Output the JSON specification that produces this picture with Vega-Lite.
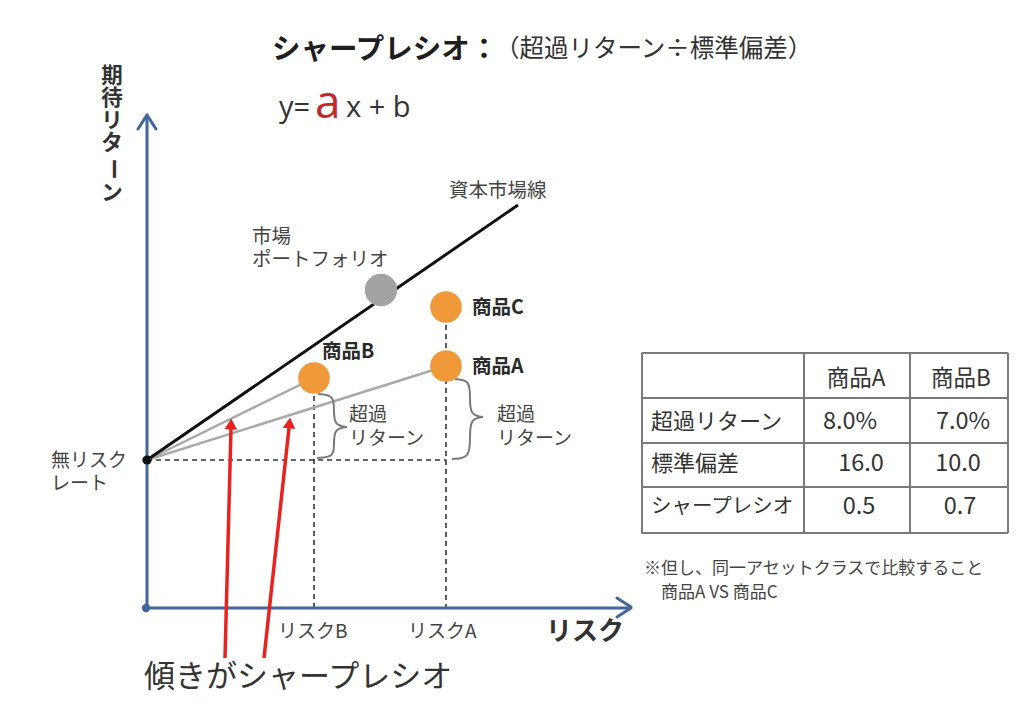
{
  "$schema": "https://vega.github.io/schema/vega-lite/v6.json",
  "width": 1024,
  "height": 715,
  "padding": 0,
  "autosize": {"type": "fit", "contains": "padding"},
  "background": "white",
  "config": {"view": {"stroke": null}, "text": {"font": "Noto Sans CJK JP"}},
  "encoding": {
    "x": {"field": "x", "type": "quantitative", "scale": {"domain": [0, 1024], "nice": false, "zero": false}, "axis": null},
    "y": {"field": "y", "type": "quantitative", "scale": {"domain": [0, 715], "reverse": true, "nice": false, "zero": false}, "axis": null}
  },
  "layer": [
    {
      "data": {"values": [
        {"x": 642, "y": 353, "x2": 1008, "y2": 353},
        {"x": 642, "y": 398, "x2": 1008, "y2": 398},
        {"x": 642, "y": 443, "x2": 1008, "y2": 443},
        {"x": 642, "y": 487, "x2": 1008, "y2": 487},
        {"x": 642, "y": 533, "x2": 1008, "y2": 533},
        {"x": 642, "y": 353, "x2": 642, "y2": 533},
        {"x": 804, "y": 353, "x2": 804, "y2": 533},
        {"x": 910, "y": 353, "x2": 910, "y2": 533},
        {"x": 1008, "y": 353, "x2": 1008, "y2": 533}
      ]},
      "mark": {"type": "rule", "color": "#7a7a7a", "strokeWidth": 2},
      "encoding": {"x2": {"field": "x2"}, "y2": {"field": "y2"}}
    },
    {
      "data": {"values": [
        {"x": 147, "y": 460, "x2": 446, "y2": 460},
        {"x": 314, "y": 378, "x2": 314, "y2": 608},
        {"x": 446, "y": 307, "x2": 446, "y2": 608}
      ]},
      "mark": {"type": "rule", "color": "#333333", "strokeWidth": 1.6, "strokeDash": [5, 4]},
      "encoding": {"x2": {"field": "x2"}, "y2": {"field": "y2"}}
    },
    {
      "data": {"values": [
        {"x": 147, "y": 608, "x2": 147, "y2": 116},
        {"x": 147, "y": 608, "x2": 629, "y2": 608},
        {"x": 138, "y": 129, "x2": 147, "y2": 115},
        {"x": 156, "y": 129, "x2": 147, "y2": 115},
        {"x": 617, "y": 598, "x2": 631, "y2": 607},
        {"x": 617, "y": 617, "x2": 631, "y2": 608}
      ]},
      "mark": {"type": "rule", "color": "#41679d", "strokeWidth": 3, "strokeCap": "round"},
      "encoding": {"x2": {"field": "x2"}, "y2": {"field": "y2"}}
    },
    {
      "data": {"values": [
        {"x": 147, "y": 460, "x2": 314, "y2": 378},
        {"x": 147, "y": 460, "x2": 446, "y2": 366}
      ]},
      "mark": {"type": "rule", "color": "#a9a9a9", "strokeWidth": 2.5},
      "encoding": {"x2": {"field": "x2"}, "y2": {"field": "y2"}}
    },
    {
      "data": {"values": [
        {"x": 147, "y": 460, "x2": 518, "y2": 205}
      ]},
      "mark": {"type": "rule", "color": "#111111", "strokeWidth": 3},
      "encoding": {"x2": {"field": "x2"}, "y2": {"field": "y2"}}
    },
    {
      "data": {"values": [
        {"b": "B1", "i": 0, "x": 318, "y": 394},
        {"b": "B1", "i": 1, "x": 334, "y": 395},
        {"b": "B1", "i": 2, "x": 334, "y": 410},
        {"b": "B1", "i": 3, "x": 334, "y": 425},
        {"b": "B1", "i": 4, "x": 347, "y": 427},
        {"b": "B2", "i": 0, "x": 347, "y": 427},
        {"b": "B2", "i": 1, "x": 334, "y": 429},
        {"b": "B2", "i": 2, "x": 334, "y": 444},
        {"b": "B2", "i": 3, "x": 334, "y": 457},
        {"b": "B2", "i": 4, "x": 317, "y": 458},
        {"b": "A1", "i": 0, "x": 455, "y": 379},
        {"b": "A1", "i": 1, "x": 470, "y": 380},
        {"b": "A1", "i": 2, "x": 470, "y": 398},
        {"b": "A1", "i": 3, "x": 470, "y": 415},
        {"b": "A1", "i": 4, "x": 483, "y": 417},
        {"b": "A2", "i": 0, "x": 483, "y": 417},
        {"b": "A2", "i": 1, "x": 470, "y": 419},
        {"b": "A2", "i": 2, "x": 470, "y": 438},
        {"b": "A2", "i": 3, "x": 470, "y": 458},
        {"b": "A2", "i": 4, "x": 452, "y": 459}
      ]},
      "mark": {"type": "line", "color": "#7a7a7a", "strokeWidth": 2, "interpolate": "basis"},
      "encoding": {"detail": {"field": "b"}, "order": {"field": "i"}}
    },
    {
      "data": {"values": [
        {"x": 225, "y": 658, "x2": 231, "y2": 428},
        {"x": 264, "y": 658, "x2": 289, "y2": 428}
      ]},
      "mark": {"type": "rule", "color": "#e8231f", "strokeWidth": 3.5},
      "encoding": {"x2": {"field": "x2"}, "y2": {"field": "y2"}}
    },
    {
      "data": {"values": [{"x": 231, "y": 424}]},
      "mark": {"type": "point", "shape": "triangle-up", "filled": true, "color": "#e8231f", "size": 160, "opacity": 1, "angle": 1.5}
    },
    {
      "data": {"values": [{"x": 289.5, "y": 423}]},
      "mark": {"type": "point", "shape": "triangle-up", "filled": true, "color": "#e8231f", "size": 160, "opacity": 1, "angle": 6}
    },
    {
      "data": {"values": [{"x": 146, "y": 608}]},
      "mark": {"type": "circle", "opacity": 1, "color": "#41679d", "size": 70}
    },
    {
      "data": {"values": [{"x": 147, "y": 460}]},
      "mark": {"type": "circle", "opacity": 1, "color": "#111111", "size": 85}
    },
    {
      "data": {"values": [{"x": 381, "y": 290}]},
      "mark": {"type": "circle", "opacity": 1, "color": "#a3a3a6", "size": 1050}
    },
    {
      "data": {"values": [
        {"x": 314, "y": 378, "p": "商品B"},
        {"x": 446, "y": 366, "p": "商品A"},
        {"x": 446, "y": 307, "p": "商品C"}
      ]},
      "mark": {"type": "circle", "opacity": 1, "color": "#f0993a", "size": 1000}
    },
    {
      "data": {"values": [{"x": 272, "y": 50, "t": "シャープレシオ："}]},
      "mark": {"type": "text", "align": "left", "baseline": "middle", "fontSize": 28.5, "fontWeight": "bold", "color": "#1e1e1e"},
      "encoding": {"text": {"field": "t"}}
    },
    {
      "data": {"values": [{"x": 495, "y": 50, "t": "（超過リターン÷標準偏差）"}]},
      "mark": {"type": "text", "align": "left", "baseline": "middle", "fontSize": 24.5, "color": "#333333"},
      "encoding": {"text": {"field": "t"}}
    },
    {
      "data": {"values": [
        {"x": 279, "y": 117, "t": "y="},
        {"x": 346, "y": 117, "t": "x + b"}
      ]},
      "mark": {"type": "text", "align": "left", "baseline": "alphabetic", "fontSize": 29, "color": "#333333", "font": "Open Sans"},
      "encoding": {"text": {"field": "t"}}
    },
    {
      "data": {"values": [{"x": 315, "y": 118, "t": "a"}]},
      "mark": {"type": "text", "align": "left", "baseline": "alphabetic", "fontSize": 46, "color": "#c0282a", "font": "Open Sans"},
      "encoding": {"text": {"field": "t"}}
    },
    {
      "data": {"values": [
        {"x": 112, "y": 77, "t": "期"},
        {"x": 112, "y": 99, "t": "待"},
        {"x": 112, "y": 122, "t": "リ"},
        {"x": 112, "y": 144, "t": "タ"},
        {"x": 112, "y": 194, "t": "ン"}
      ]},
      "mark": {"type": "text", "align": "center", "baseline": "middle", "fontSize": 21.5, "fontWeight": "bold", "color": "#333333"},
      "encoding": {"text": {"field": "t"}}
    },
    {
      "data": {"values": [{"x": 112, "y": 169, "t": "ー"}]},
      "mark": {"type": "text", "align": "center", "baseline": "middle", "fontSize": 21.5, "fontWeight": "bold", "color": "#333333", "angle": 90},
      "encoding": {"text": {"field": "t"}}
    },
    {
      "data": {"values": [
        {"x": 449, "y": 191, "t": "資本市場線"},
        {"x": 252, "y": 237, "t": "市場"},
        {"x": 252, "y": 260, "t": "ポートフォリオ"}
      ]},
      "mark": {"type": "text", "align": "left", "baseline": "middle", "fontSize": 19.5, "color": "#444444"},
      "encoding": {"text": {"field": "t"}}
    },
    {
      "data": {"values": [
        {"x": 322, "y": 352, "t": "商品B"},
        {"x": 472, "y": 367, "t": "商品A"},
        {"x": 472, "y": 308, "t": "商品C"}
      ]},
      "mark": {"type": "text", "align": "left", "baseline": "middle", "fontSize": 19.5, "fontWeight": "bold", "color": "#2a2a2a"},
      "encoding": {"text": {"field": "t"}}
    },
    {
      "data": {"values": [
        {"x": 349, "y": 415, "t": "超過"},
        {"x": 349, "y": 439, "t": "リターン"},
        {"x": 497, "y": 415, "t": "超過"},
        {"x": 497, "y": 439, "t": "リターン"},
        {"x": 51, "y": 461, "t": "無リスク"},
        {"x": 51, "y": 484, "t": "レート"},
        {"x": 278, "y": 632, "t": "リスクB"},
        {"x": 408, "y": 632, "t": "リスクA"}
      ]},
      "mark": {"type": "text", "align": "left", "baseline": "middle", "fontSize": 19, "color": "#444444"},
      "encoding": {"text": {"field": "t"}}
    },
    {
      "data": {"values": [{"x": 546, "y": 632, "t": "リスク"}]},
      "mark": {"type": "text", "align": "left", "baseline": "middle", "fontSize": 26, "fontWeight": "bold", "color": "#333333"},
      "encoding": {"text": {"field": "t"}}
    },
    {
      "data": {"values": [{"x": 144, "y": 678, "t": "傾きがシャープレシオ"}]},
      "mark": {"type": "text", "align": "left", "baseline": "middle", "fontSize": 31, "color": "#333333"},
      "encoding": {"text": {"field": "t"}}
    },
    {
      "data": {"values": [
        {"x": 651, "y": 422, "t": "超過リターン"},
        {"x": 651, "y": 464, "t": "標準偏差"}
      ]},
      "mark": {"type": "text", "align": "left", "baseline": "middle", "fontSize": 22, "color": "#333333"},
      "encoding": {"text": {"field": "t"}}
    },
    {
      "data": {"values": [
        {"x": 651, "y": 507, "t": "シャープレシオ"}
      ]},
      "mark": {"type": "text", "align": "left", "baseline": "middle", "fontSize": 20.5, "color": "#333333"},
      "encoding": {"text": {"field": "t"}}
    },
    {
      "data": {"values": [
        {"x": 856, "y": 379, "t": "商品A"},
        {"x": 961, "y": 379, "t": "商品B"}
      ]},
      "mark": {"type": "text", "align": "center", "baseline": "middle", "fontSize": 22.5, "color": "#333333"},
      "encoding": {"text": {"field": "t"}}
    },
    {
      "data": {"values": [
        {"x": 850, "y": 422, "t": "8.0%"},
        {"x": 963, "y": 422, "t": "7.0%"},
        {"x": 861, "y": 464, "t": "16.0"},
        {"x": 958, "y": 464, "t": "10.0"},
        {"x": 859, "y": 507, "t": "0.5"},
        {"x": 960, "y": 507, "t": "0.7"}
      ]},
      "mark": {"type": "text", "align": "center", "baseline": "middle", "fontSize": 23.5, "color": "#333333"},
      "encoding": {"text": {"field": "t"}}
    },
    {
      "data": {"values": [
        {"x": 644, "y": 569, "t": "※但し、同一アセットクラスで比較すること"},
        {"x": 661, "y": 593, "t": "商品A VS 商品C"}
      ]},
      "mark": {"type": "text", "align": "left", "baseline": "middle", "fontSize": 17, "color": "#444444"},
      "encoding": {"text": {"field": "t"}}
    }
  ]
}
